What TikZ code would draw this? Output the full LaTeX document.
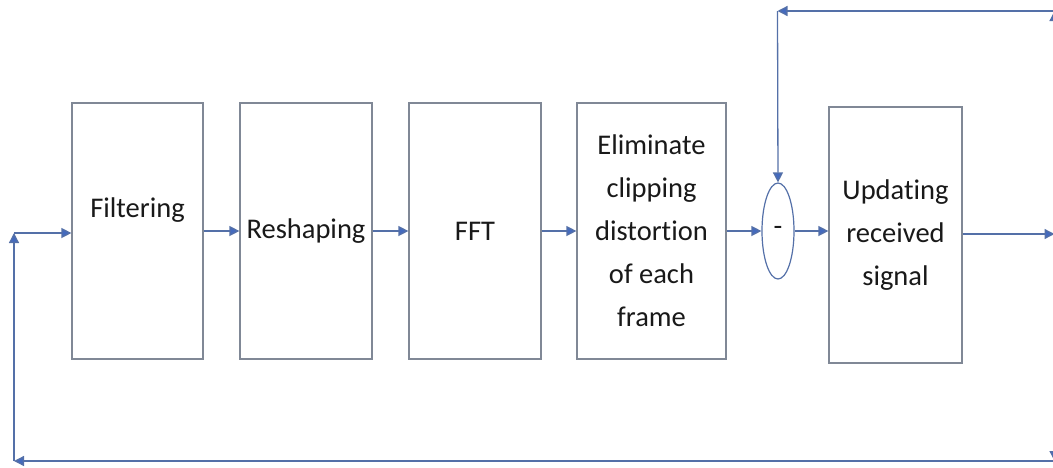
\documentclass[tikz,border=0pt]{standalone}
\usepackage{fontspec}
\setmainfont{Carlito}[Ligatures=NoCommon]
\usetikzlibrary{arrows.meta,shapes.geometric}

\definecolor{boxline}{RGB}{128,136,150}
\definecolor{flowline}{RGB}{84,112,168}
\definecolor{tipblue}{RGB}{68,106,190}
\definecolor{txt}{RGB}{25,25,25}

\tikzset{
  block/.style={draw=boxline, line width=1.2pt, fill=white, inner sep=0pt,
    align=center, text=txt, font=\fontsize{28.5}{43}\selectfont},
  flow/.style={draw=flowline, line width=1.3pt,
    -{Triangle[length=10pt,width=10pt,fill=tipblue]}}
}

\begin{document}
\begin{tikzpicture}[x=1pt,y=-1pt]
  \useasboundingbox (0,0) rectangle (1053,467);
  \clip (0,0) rectangle (1053,467);

  % processing blocks
  \node[block, minimum width=131pt, minimum height=256pt,
        label={[name=filtxt, text=txt, font=\fontsize{28.5}{43}\selectfont, yshift=21pt]center:Filtering}]
        (filt) at (137.5,231) {};
  \node[block, minimum width=132pt, minimum height=256pt] (resh) at (306,231) {Reshaping};
  \node[block, minimum width=132pt, minimum height=256pt] (fft) at (475,231) {FFT};
  \node[block, minimum width=149pt, minimum height=256pt] (elim) at (651.5,231)
        {Eliminate\\clipping\\distortion\\of each\\frame};
  \node[draw=flowline, line width=1.2pt, ellipse, inner sep=0pt,
        minimum width=32pt, minimum height=96pt, text=txt,
        font=\fontsize{28.5}{43}\selectfont] (sub) at (778,231) {-};
  \node[block, minimum width=133pt, minimum height=256pt] (upd) at (895.5,235)
        {Updating\\received\\signal};

  % routing points of the feedback loops
  \coordinate (out) at (1054.5,234);
  \coordinate (tr)  at (1054.5,11);
  \coordinate (tl)  at (777.5,11);
  \coordinate (br)  at (1054.5,461);
  \coordinate (bl)  at (14,461);
  \coordinate (lin) at (14,233);

  % forward chain
  \draw[flow] (filt.east) -- (resh.west);
  \draw[flow] (resh.east) -- (fft.west);
  \draw[flow] (fft.east) -- (elim.west);
  \draw[flow] (elim.east) -- (sub.west);
  \draw[flow] (sub.east) -- (sub.east -| upd.west);
  \draw[flow] (upd.east |- out) -- (out);

  % feedback to the subtractor
  \draw[flow] (out) -- (tr);
  \draw[flow] (tr) -- (tl);
  \draw[flow] (tl) -- (sub.north);

  % feedback to the input
  \draw[flow] (out) -- (br);
  \draw[flow] (br) -- (bl);
  \draw[flow] (bl) -- (lin);
  \draw[flow] (lin) -- (lin -| filt.west);
\end{tikzpicture}
\end{document}
